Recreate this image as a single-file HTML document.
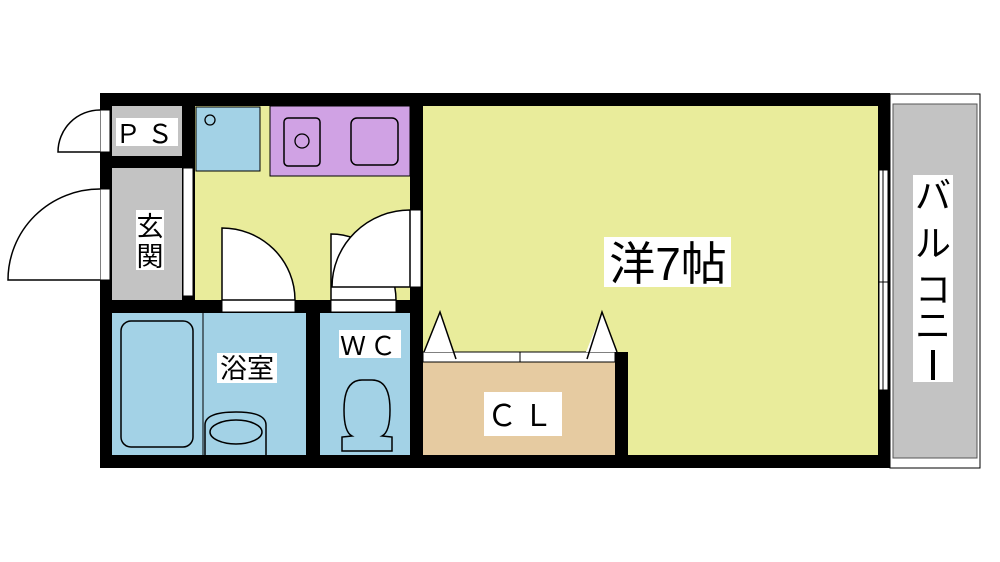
<!DOCTYPE html>
<html><head><meta charset="utf-8"><style>
html,body{margin:0;padding:0;background:#fff;width:1000px;height:562px;overflow:hidden}
text{font-family:"Liberation Sans","Noto Sans CJK JP",sans-serif;fill:#000}
</style></head><body>
<svg width="1000" height="562" viewBox="0 0 1000 562">
<!-- balcony -->
<rect x="890" y="94" width="90" height="374" fill="#fff" stroke="#000" stroke-width="1"/>
<rect x="893" y="104" width="84" height="354" fill="#c3c3c3" stroke="#555" stroke-width="1"/>
<rect x="913" y="175" width="40" height="207" fill="#fff"/>
<text x="933" y="208" font-size="36" text-anchor="middle">バ</text>
<text x="933" y="256" font-size="36" text-anchor="middle">ル</text>
<text x="933" y="302" font-size="36" text-anchor="middle">コ</text>
<text x="933" y="338" font-size="36" text-anchor="middle">ニ</text>
<rect x="931" y="350" width="4" height="30" fill="#000"/>
<!-- outer black -->
<rect x="100" y="93" width="790" height="375" fill="#000"/>
<!-- PS -->
<rect x="112" y="106" width="70" height="50" fill="#c3c3c3"/>
<rect x="116" y="118" width="62" height="28" fill="#fff"/>
<text x="147" y="143" font-size="26" text-anchor="middle" letter-spacing="6">ＰＳ</text>
<!-- genkan -->
<rect x="112" y="168" width="70" height="132" fill="#c3c3c3"/>
<rect x="183" y="168" width="10" height="128" fill="#fff" stroke="#000" stroke-width="1"/>
<rect x="136" y="210" width="28" height="60" fill="#fff"/>
<text x="150" y="236" font-size="27" text-anchor="middle">玄</text>
<text x="150" y="266" font-size="27" text-anchor="middle">関</text>
<!-- left doors -->
<rect x="100" y="110" width="10" height="42" fill="#fff" stroke="#000" stroke-width="1"/>
<path d="M100 110 A42 42 0 0 0 58 152 L100 152" fill="#fff" stroke="#000" stroke-width="1.5"/>
<rect x="100" y="189" width="10" height="91" fill="#fff" stroke="#000" stroke-width="1"/>
<path d="M100 189 A92 91 0 0 0 8 280 L100 280" fill="#fff" stroke="#000" stroke-width="1.5"/>
<!-- kitchen -->
<rect x="195" y="106" width="215" height="194" fill="#e9ec9b"/>
<rect x="196" y="107" width="64" height="64" fill="#a3d2e6" stroke="#000" stroke-width="1"/>
<circle cx="210" cy="120" r="5" fill="none" stroke="#000" stroke-width="1.3"/>
<rect x="270" y="106" width="140" height="70" fill="#d0a2e4" stroke="#000" stroke-width="1"/>
<rect x="284" y="118" width="36" height="48" rx="4" fill="none" stroke="#000" stroke-width="1.5"/>
<circle cx="302" cy="141" r="7" fill="none" stroke="#000" stroke-width="1.3"/>
<rect x="351" y="118" width="47" height="47" rx="6" fill="none" stroke="#000" stroke-width="1.5"/>
<!-- main room -->
<rect x="423" y="106" width="455" height="349" fill="#e9ec9b"/>
<rect x="604" y="237" width="127" height="50" fill="#fff"/>
<text x="668" y="280" font-size="46" text-anchor="middle">洋7帖</text>
<!-- right window -->
<rect x="879" y="170" width="9" height="220" fill="#fff" stroke="#000" stroke-width="1"/>
<line x1="883" y1="170" x2="883" y2="390" stroke="#000" stroke-width="1"/>
<line x1="879" y1="282" x2="888" y2="282" stroke="#000" stroke-width="1"/>
<!-- bath -->
<rect x="112" y="313" width="194" height="142" fill="#a3d2e6"/>
<line x1="203" y1="313" x2="203" y2="455" stroke="#000" stroke-width="1"/>
<rect x="121" y="321" width="72" height="126" rx="10" fill="none" stroke="#000" stroke-width="1.5"/>
<path d="M205 455 L205 425 Q205 412 236 412 Q266 412 266 425 L266 455" fill="none" stroke="#000" stroke-width="1.5"/>
<ellipse cx="236" cy="432" rx="26" ry="12" fill="none" stroke="#000" stroke-width="1.5"/>
<rect x="217" y="353" width="60" height="30" fill="#fff"/>
<text x="247" y="378" font-size="27" text-anchor="middle">浴室</text>
<!-- WC -->
<rect x="320" y="313" width="90" height="142" fill="#a3d2e6"/>
<rect x="339" y="330" width="62" height="28" fill="#fff"/>
<text x="370" y="355" font-size="26" text-anchor="middle" letter-spacing="4">ＷＣ</text>
<path d="M362 380 Q344 380 344 410 Q344 432 352 436 L342 437 L342 451 L392 451 L392 437 L382 436 Q390 432 390 410 Q390 380 372 380 Z" fill="none" stroke="#000" stroke-width="1.5"/>
<!-- bath door -->
<rect x="222" y="300" width="73" height="12" fill="#fff" stroke="#000" stroke-width="1"/>
<path d="M222 300 L222 228 A73 72 0 0 1 295 300 Z" fill="#fff" stroke="#000" stroke-width="1.5"/>
<!-- WC door -->
<rect x="331" y="300" width="65" height="12" fill="#fff" stroke="#000" stroke-width="1"/>
<path d="M331 300 L331 234 A65 66 0 0 1 396 300 Z" fill="#fff" stroke="#000" stroke-width="1.5"/>
<!-- main door -->
<rect x="410" y="210" width="11" height="77" fill="#fff" stroke="#000" stroke-width="1"/>
<path d="M410 287 L410 210 A78 77 0 0 0 332 287 Z" fill="#fff" stroke="#000" stroke-width="1.5"/>
<!-- CL -->
<rect x="423" y="362" width="192" height="93" fill="#e6cba1"/>
<rect x="615" y="352" width="13" height="103" fill="#000"/>
<rect x="423" y="352" width="192" height="10" fill="#fff" stroke="#000" stroke-width="1"/>
<line x1="520" y1="352" x2="520" y2="362" stroke="#000" stroke-width="1"/>
<path d="M424 352 L440 312 L448 336 L454 352 Z" fill="#fff" stroke="none"/>
<path d="M424 352 L440 312 L456 359" fill="none" stroke="#000" stroke-width="1.5"/>
<path d="M586 352 L602 312 L617 352 Z" fill="#fff" stroke="none"/>
<path d="M587 359 L602 312 L617 352" fill="none" stroke="#000" stroke-width="1.5"/>
<rect x="484" y="392" width="78" height="44" fill="#fff"/>
<text x="523" y="426" font-size="30" text-anchor="middle" letter-spacing="6">ＣＬ</text>
</svg>
</body></html>
